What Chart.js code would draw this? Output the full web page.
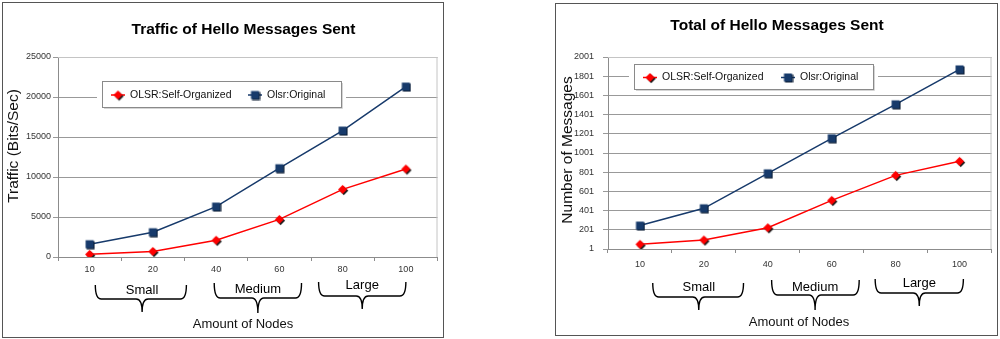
<!DOCTYPE html>
<html lang="en">
<head>
<meta charset="UTF-8">
<title>Hello Messages Sent</title>
<script src="https://cdn.jsdelivr.net/npm/chart.js@4.4.0/dist/chart.umd.min.js"></script>
<style>
    body {
        margin: 0;
        width: 1000px;
        height: 339px;
        position: relative;
        overflow: hidden;
        background: #fff;
        font-family: Arial, "Liberation Sans", sans-serif;
    }
    .box {
        position: absolute;
        border: 1px solid #555;
        background: #fff;
    }
    #boxTraffic { left: 2px; top: 2px; width: 440px; height: 334px; }
    #boxTotal { left: 555px; top: 3px; width: 441px; height: 331px; }
    canvas { display: block; }
</style>
</head>
<body>
<div class="box" id="boxTraffic"><canvas id="trafficChart" width="440" height="334"></canvas></div>
<div class="box" id="boxTotal"><canvas id="totalChart" width="441" height="331"></canvas></div>
<script>
// data
var nodes = ['10', '20', '40', '60', '80', '100'];
var groups = ['Small', 'Medium', 'Large'];
var seriesNames = ['OLSR:Self-Organized', 'Olsr:Original'];

var trafficSelfOrg = [330, 700, 2100, 4700, 8450, 11000];
var trafficOriginal = [1600, 3100, 6300, 11100, 15800, 21300];
var trafficTicks = [0, 5000, 10000, 15000, 20000, 25000];

var totalSelfOrg = [50, 95, 223, 508, 768, 914];
var totalOriginal = [245, 425, 789, 1154, 1508, 1872];
var totalTicks = [1, 201, 401, 601, 801, 1001, 1201, 1401, 1601, 1801, 2001];

var FONT = 'Arial, "Liberation Sans", sans-serif';
var RED = '#ff0000';
var NAVY = '#173a6b';

// point markers with a small drop shadow
function diamondImg() {
    var c = document.createElement('canvas');
    c.width = 13; c.height = 13;
    var g = c.getContext('2d');
    function d(o, col) {
        g.beginPath();
        g.moveTo(6.5 + o, 2 + o);
        g.lineTo(11 + o, 6.5 + o);
        g.lineTo(6.5 + o, 11 + o);
        g.lineTo(2 + o, 6.5 + o);
        g.closePath();
        g.fillStyle = col;
        g.fill();
    }
    d(1.2, '#1a1a1a');
    d(0, RED);
    return c;
}
function squareImg() {
    var c = document.createElement('canvas');
    c.width = 11; c.height = 11;
    var g = c.getContext('2d');
    g.fillStyle = '#0b1a30';
    g.fillRect(2.5, 2.5, 8, 8);
    g.fillStyle = NAVY;
    g.fillRect(1.5, 1.5, 8, 8);
    return c;
}
var diamond = diamondImg();
var square = squareImg();

// titles, plot frame, custom legend box and the Small/Medium/Large braces
var decor = {
    id: 'decor',
    beforeDatasetsDraw: function (chart) {
        var ctx = chart.ctx, a = chart.chartArea;
        ctx.save();
        ctx.strokeStyle = '#c4c4c4';
        ctx.lineWidth = 1;
        ctx.beginPath();
        ctx.moveTo(a.left, a.top + 0.5);
        ctx.lineTo(a.right - 0.5, a.top + 0.5);
        ctx.lineTo(a.right - 0.5, a.bottom);
        ctx.stroke();
        ctx.restore();
    },
    afterDraw: function (chart, args, opts) {
        var ctx = chart.ctx, a = chart.chartArea, xs = chart.scales.x;
        ctx.save();

        ctx.fillStyle = '#000';
        ctx.font = 'bold 15.5px ' + FONT;
        ctx.textAlign = 'center';
        ctx.textBaseline = 'middle';
        ctx.fillText(opts.title, opts.titleX, opts.titleY);

        // axis titles
        ctx.fillStyle = '#111';
        ctx.font = '13px ' + FONT;
        ctx.fillText('Amount of Nodes', opts.xTitle[0], opts.xTitle[1]);
        ctx.save();
        ctx.translate(opts.yTitle[0], opts.yTitle[1]);
        ctx.rotate(-Math.PI / 2);
        ctx.font = '15.5px ' + FONT;
        ctx.fillText(opts.yText, 0, 0);
        ctx.restore();

        // legend
        var L = opts.legend;
        ctx.fillStyle = '#fff';
        ctx.fillRect(L.x - 5, L.y - 2, L.w + 10, L.h + 5);
        ctx.strokeStyle = '#c8c8c8';
        ctx.lineWidth = 1.5;
        ctx.beginPath();
        ctx.moveTo(L.x + 2, L.y + L.h + 1);
        ctx.lineTo(L.x + L.w + 1, L.y + L.h + 1);
        ctx.lineTo(L.x + L.w + 1, L.y + 2);
        ctx.stroke();
        ctx.strokeStyle = '#8a8a8a';
        ctx.lineWidth = 1;
        ctx.strokeRect(L.x + 0.5, L.y + 0.5, L.w, L.h);
        ctx.font = '10.5px ' + FONT;
        ctx.textAlign = 'left';
        var cy = L.y + L.h / 2 + 1;
        chart.data.datasets.forEach(function (ds, i) {
            var lx = L.x + L.items[i];
            ctx.strokeStyle = ds.borderColor;
            ctx.lineWidth = 1.5;
            ctx.beginPath();
            ctx.moveTo(lx, cy);
            ctx.lineTo(lx + 14, cy);
            ctx.stroke();
            var img = ds.pointStyle;
            ctx.drawImage(img, lx + 7 - img.width / 2, cy - img.height / 2);
            ctx.fillStyle = '#111';
            ctx.fillText(ds.label, lx + 19, cy);
        });

        // braces under the node axis
        ctx.strokeStyle = '#000';
        ctx.lineWidth = 1.4;
        ctx.fillStyle = '#000';
        ctx.font = '13px ' + FONT;
        ctx.textAlign = 'center';
        opts.braces.forEach(function (b, i) {
            var x1 = xs.getPixelForValue(b.from);
            var x2 = xs.getPixelForValue(b.to);
            var xm = xs.getPixelForValue(b.tip);
            var yt = a.bottom + b.top, ym = a.bottom + b.mid, ye = a.bottom + b.end;
            var r = 6;
            ctx.beginPath();
            ctx.moveTo(x1, yt);
            ctx.quadraticCurveTo(x1, ym, x1 + r, ym);
            ctx.lineTo(xm - r, ym);
            ctx.quadraticCurveTo(xm, ym, xm, ye);
            ctx.moveTo(x2, yt);
            ctx.quadraticCurveTo(x2, ym, x2 - r, ym);
            ctx.lineTo(xm + r, ym);
            ctx.quadraticCurveTo(xm, ym, xm, ye);
            ctx.stroke();
            ctx.fillText(groups[i], xm, a.bottom + b.label);
        });
        ctx.restore();
    }
};

function makeChart(id, selfOrg, original, ticks, lay) {
    return new Chart(document.getElementById(id), {
        type: 'line',
        data: {
            labels: nodes,
            datasets: [
                {
                    label: seriesNames[0],
                    data: selfOrg,
                    borderColor: RED,
                    backgroundColor: RED,
                    borderWidth: 1.5,
                    pointStyle: diamond,
                    tension: 0
                },
                {
                    label: seriesNames[1],
                    data: original,
                    borderColor: NAVY,
                    backgroundColor: NAVY,
                    borderWidth: 1.5,
                    pointStyle: square,
                    tension: 0
                }
            ]
        },
        options: {
            responsive: false,
            animation: false,
            layout: { padding: { top: lay.top, right: lay.right, left: 0, bottom: 0 } },
            plugins: {
                legend: { display: false },
                tooltip: { enabled: false },
                decor: lay.decor
            },
            scales: {
                x: {
                    type: 'category',
                    offset: true,
                    afterFit: function (s) { s.height = lay.xHeight; },
                    border: { color: '#8c8c8c', width: 1 },
                    grid: { offset: true, drawOnChartArea: false, tickLength: 4, color: '#8c8c8c' },
                    ticks: { color: '#333', padding: lay.xPad, font: { family: FONT, size: 9 } }
                },
                y: {
                    min: ticks[0],
                    max: ticks[ticks.length - 1],
                    afterFit: function (s) { s.width = lay.yWidth; },
                    afterBuildTicks: function (s) {
                        s.ticks = ticks.map(function (v) { return { value: v }; });
                    },
                    border: { color: '#8c8c8c', width: 1 },
                    grid: { color: '#999', tickLength: 5, lineWidth: 1 },
                    ticks: {
                        color: '#333',
                        padding: lay.yPad,
                        font: { family: FONT, size: 9 },
                        callback: function (v) { return String(v); }
                    }
                }
            }
        },
        plugins: [decor]
    });
}

makeChart('trafficChart', trafficSelfOrg, trafficOriginal, trafficTicks, {
    top: 54, right: 4, xHeight: 80, yWidth: 55, xPad: 3, yPad: 2,
    decor: {
        title: 'Traffic of Hello Messages Sent', titleX: 240.5, titleY: 27,
        yText: 'Traffic (Bits/Sec)', yTitle: [11, 143],
        xTitle: [240, 321],
        legend: { x: 99, y: 78, w: 239, h: 26, items: [9, 146] },
        braces: [
            { from: 0.09, to: 1.53, tip: 0.83, top: 28, mid: 42, end: 55, label: 33 },
            { from: 1.97, to: 3.35, tip: 2.66, top: 26, mid: 41, end: 56, label: 32 },
            { from: 3.62, to: 5.0, tip: 4.31, top: 25, mid: 39, end: 52, label: 28 }
        ]
    }
});

makeChart('totalChart', totalSelfOrg, totalOriginal, totalTicks, {
    top: 53, right: 5, xHeight: 86, yWidth: 52, xPad: 6, yPad: 9,
    decor: {
        title: 'Total of Hello Messages Sent', titleX: 221, titleY: 22,
        yText: 'Number of Messages', yTitle: [12, 146],
        xTitle: [243, 318],
        legend: { x: 78, y: 60, w: 239, h: 25, items: [9, 147] },
        braces: [
            { from: 0.2, to: 1.62, tip: 0.92, top: 34, mid: 48, end: 61, label: 38 },
            { from: 2.06, to: 3.43, tip: 2.74, top: 31, mid: 46, end: 61, label: 38 },
            { from: 3.68, to: 5.06, tip: 4.37, top: 30, mid: 44, end: 57, label: 34 }
        ]
    }
});
</script>
</body>
</html>
